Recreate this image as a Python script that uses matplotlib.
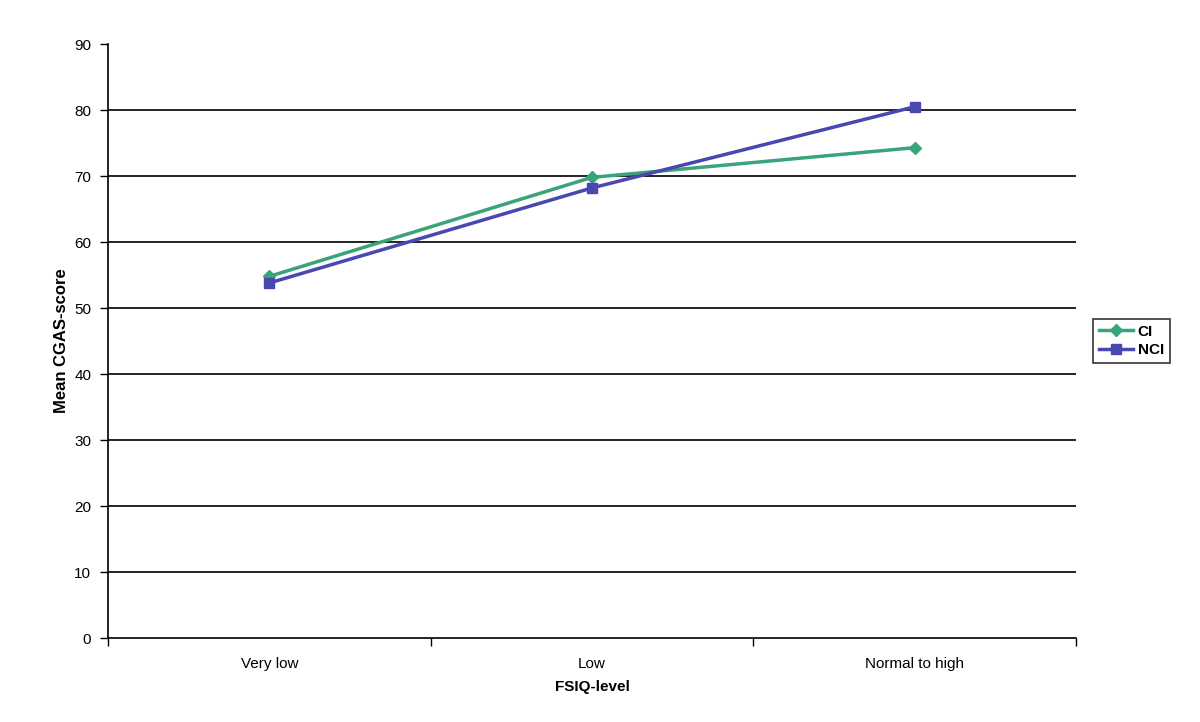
import matplotlib.pyplot as plt

# data
categories = ['Very low', 'Low', 'Normal to high']
ci_scores = [54.8, 69.8, 74.3]
nci_scores = [53.8, 68.2, 80.5]

plt.rcParams['font.family'] = ['Liberation Sans', 'DejaVu Sans']

fig = plt.figure(figsize=(12, 7.22), dpi=100)
ax = fig.add_axes([0.09, 0.1163, 0.8067, 0.8227])

xpos = [i + 0.5 for i in range(len(categories))]

# horizontal grid lines (no line at the top)
for yv in range(10, 90, 10):
    ax.axhline(yv, color='black', lw=1.2, zorder=1)

ax.plot(xpos, ci_scores, color='#3aa479', lw=2.5, marker='D', ms=6, label='CI', zorder=3)
ax.plot(xpos, nci_scores, color='#4848b0', lw=2.5, marker='s', ms=7, label='NCI', zorder=3)

ax.set_xlim(0, 3)
ax.set_ylim(0, 90)
ax.set_yticks(range(0, 100, 10))
ax.set_xticks([0, 1, 2, 3])
ax.set_xticklabels([])
ax.set_xticks(xpos, minor=True)
ax.set_xticklabels(categories, minor=True)
ax.tick_params(axis='x', which='minor', length=0, pad=14, labelsize=11)
ax.tick_params(axis='x', which='major', length=6, direction='out', width=1)
ax.tick_params(axis='y', length=6, width=1, labelsize=11, pad=6)

ax.spines['top'].set_visible(False)
ax.spines['right'].set_visible(False)
ax.spines['left'].set_linewidth(1.2)
ax.spines['bottom'].set_linewidth(1.2)

ax.set_xlabel('FSIQ-level', fontsize=11, fontweight='bold', labelpad=6)
ax.set_ylabel('Mean CGAS-score', fontsize=12, fontweight='bold', labelpad=4)

leg = ax.legend(loc='center left', bbox_to_anchor=(1.01, 0.5), frameon=True,
                fancybox=False, edgecolor='black', handlelength=2.2,
                prop={'weight': 'bold', 'size': 11}, borderpad=0.4,
                labelspacing=0.3, handletextpad=0.3)
leg.get_frame().set_linewidth(1.2)

fig.savefig('out.png', dpi=100)
